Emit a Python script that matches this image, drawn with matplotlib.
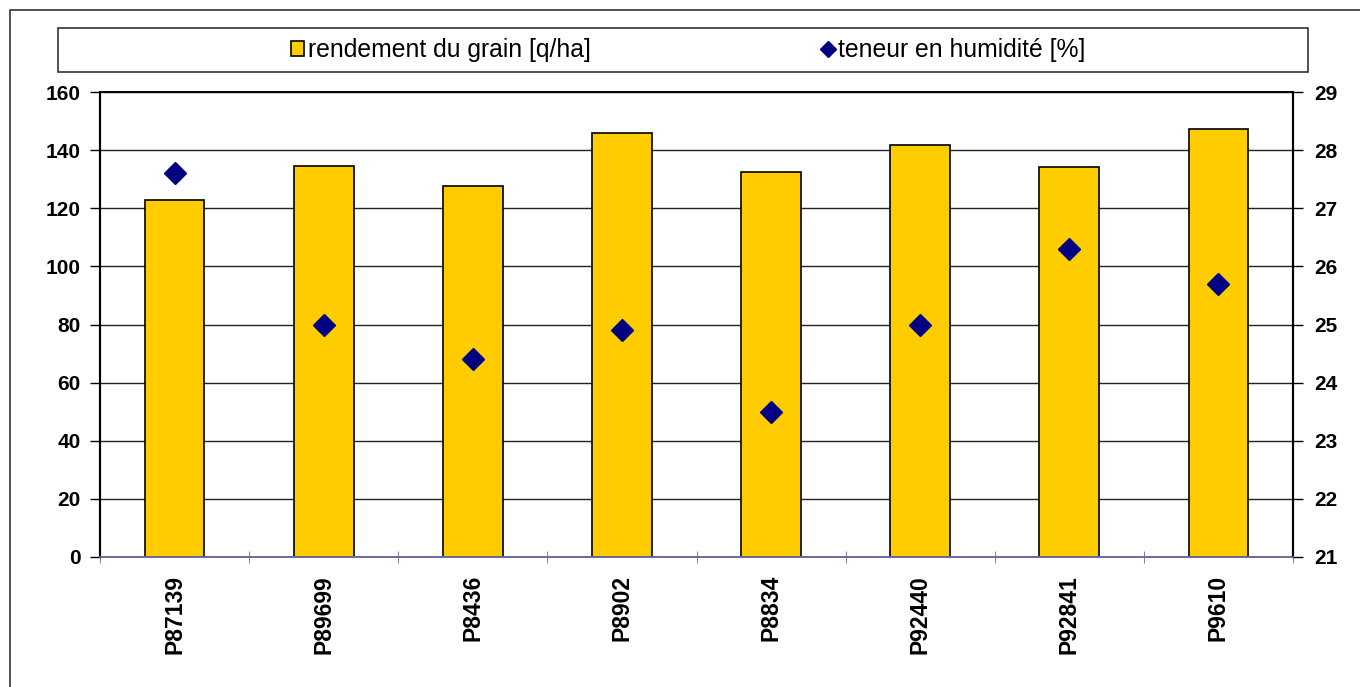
import numpy as np
import matplotlib.pyplot as plt
from matplotlib.patches import Rectangle
from matplotlib.lines import Line2D

plt.rcParams['font.family'] = ['Liberation Sans', 'DejaVu Sans']

hybrids = ["P87139", "P89699", "P8436", "P8902", "P8834", "P92440", "P92841", "P9610"]
rendement = [122.8, 134.5, 127.7, 145.9, 132.5, 141.8, 134.2, 147.3]
humidite = [27.6, 25.0, 24.4, 24.9, 23.5, 25.0, 26.3, 25.7]

fig = plt.figure(figsize=(13.6, 6.87), dpi=100)
ax = fig.add_axes([100/1360, 130/687, 1193/1360, 465/687])
ax2 = ax.twinx()

x = np.arange(len(hybrids))
ax.set_axisbelow(True)
ax.yaxis.grid(True, color='#222222', linewidth=1.0)
ax.bar(x, rendement, width=0.4, color='#FFCC00', edgecolor='black', linewidth=1.2, zorder=2)

ax2.plot(x, humidite, linestyle='none', marker='D', markersize=11.5,
         color='#000080', zorder=3)

ax.set_xlim(-0.5, len(hybrids) - 0.5)
ax.set_ylim(0, 160)
ax.set_yticks(np.arange(0, 161, 20))
ax2.set_ylim(21, 29)
ax2.set_yticks(np.arange(21, 30, 1))

# category labels (major ticks hidden), separators as minor ticks
ax.set_xticks(x)
ax.set_xticklabels(hybrids, rotation=90, fontsize=16.5, fontweight='bold')
ax.tick_params(axis='x', which='major', length=0, pad=13)
ax.set_xticks(np.arange(-0.5, len(hybrids), 1), minor=True)
ax.tick_params(axis='x', which='minor', length=8, color='#6a6a9a', direction='inout')

ax.tick_params(axis='y', length=7, width=1, labelsize=15, pad=7)
for lab in ax.get_yticklabels():
    lab.set_fontweight('bold')
ax2.tick_params(axis='y', length=7, width=1, labelsize=15, pad=8)
for lab in ax2.get_yticklabels():
    lab.set_fontweight('bold')

for a in (ax, ax2):
    a.spines['bottom'].set_color('#6a6a9a')
    a.spines['bottom'].set_linewidth(1.2)
    a.spines['left'].set_linewidth(1.5)
    a.spines['right'].set_linewidth(1.5)
    a.spines['top'].set_linewidth(1.2)

# legend box
fig.patches.append(Rectangle((58/1360, 1 - 72/687), 1250/1360, 44/687,
                             transform=fig.transFigure, facecolor='white',
                             edgecolor='#333333', linewidth=1.2))
handles = [
    Rectangle((0, 0), 1, 1, facecolor='#FFCC00', edgecolor='black', linewidth=1.2),
    Line2D([], [], linestyle='none', marker='D', markersize=8.5, color='#000080'),
]
fig.legend(handles, ["rendement du grain [q/ha]", "teneur en humidité [%]"],
           loc='center', bbox_to_anchor=(688/1360, 1 - 50/687), ncol=2,
           frameon=False, fontsize=17.8, handlelength=0.55, handleheight=0.55,
           handletextpad=0.15, columnspacing=9.3)

# outer frame of the chart area
fig.patches.append(Rectangle((10/1360, -0.1), 1.2, 1 - 10/687 + 0.1,
                             transform=fig.transFigure, facecolor='none',
                             edgecolor='#333333', linewidth=1.2))

fig.savefig("out.png", dpi=100)
